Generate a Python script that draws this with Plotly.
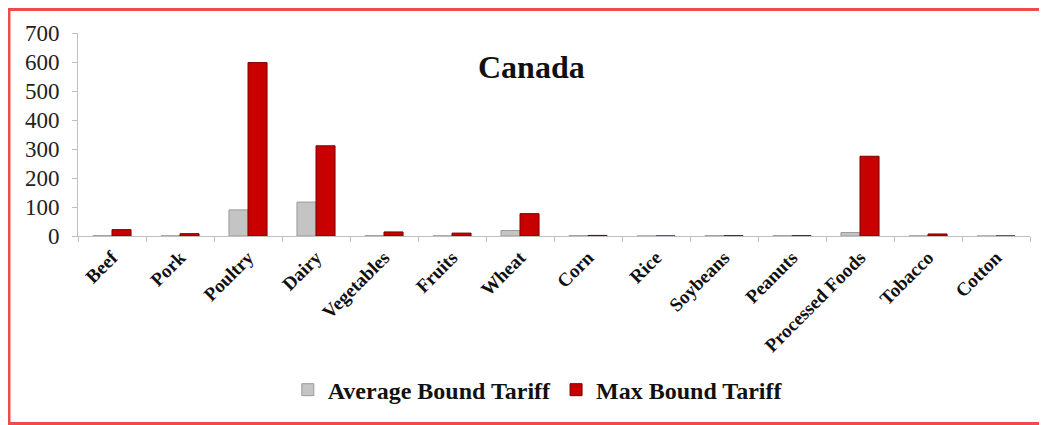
import plotly.graph_objects as go

categories = ["Beef", "Pork", "Poultry", "Dairy", "Vegetables", "Fruits", "Wheat",
              "Corn", "Rice", "Soybeans", "Peanuts", "Processed Foods", "Tobacco", "Cotton"]
avg_bound = [1, 0.5, 90, 117, 1, 0.5, 19, 1, 0, 1, 1, 12, 0.5, 0]
max_bound = [22, 8, 598, 311, 14, 10, 77, 2, 0, 1, 1, 275, 7, 0]
y_ticks = [0, 100, 200, 300, 400, 500, 600, 700]

serif = "Liberation Serif, Times New Roman, serif"

fig = go.Figure()
fig.add_trace(go.Bar(
    x=categories, y=avg_bound, name="Average Bound Tariff",
    marker=dict(color="#c4c4c4", line=dict(color="#9a9a9a", width=1)),
))
fig.add_trace(go.Bar(
    x=categories, y=max_bound, name="Max Bound Tariff",
    marker=dict(color="#c80000", line=dict(color="#7a0000", width=1)),
))

# page body has an 8px margin, so the figure is sized/offset to match the reference frame
fig.update_layout(
    width=1039, height=417,
    margin=dict(l=70, r=17, t=25, b=189),
    paper_bgcolor="white", plot_bgcolor="white",
    barmode="group", bargap=0.44, bargroupgap=0,
    font=dict(family=serif, color="#222"),
    showlegend=True,
    legend=dict(
        orientation="h", x=0.483, xanchor="center", y=-0.759, yanchor="middle",
        font=dict(family=serif, size=24, color="#111", weight="bold"),
        itemwidth=30, tracegroupgap=0,
    ),
    annotations=[dict(
        text="<b>Canada</b>", x=0.476, y=0.931, xref="paper", yref="paper",
        showarrow=False, font=dict(family=serif, size=32, color="#111"),
    )],
    shapes=[dict(
        type="rect", xref="paper", yref="paper",
        x0=-0.0725, x1=1.05, y0=-0.9236, y1=1.1158,
        line=dict(color="#f04a4a", width=3),
    )],
)
fig.update_xaxes(
    showline=True, linecolor="#bfbfbf", linewidth=1,
    ticks="outside", tickson="boundaries", ticklen=5, tickcolor="#bfbfbf",
    tickangle=-45, tickfont=dict(family=serif, size=19, color="#111", weight="bold"),
    ticklabelstandoff=2,
    showgrid=False,
)
fig.update_yaxes(
    range=[0, 700], tickvals=y_ticks,
    showline=True, linecolor="#bfbfbf", linewidth=1,
    ticks="outside", ticklen=5, tickcolor="#bfbfbf",
    tickfont=dict(family=serif, size=23, color="#222"),
    ticklabelstandoff=8,
    showgrid=False, zeroline=False,
)

fig.write_html("out.html")
